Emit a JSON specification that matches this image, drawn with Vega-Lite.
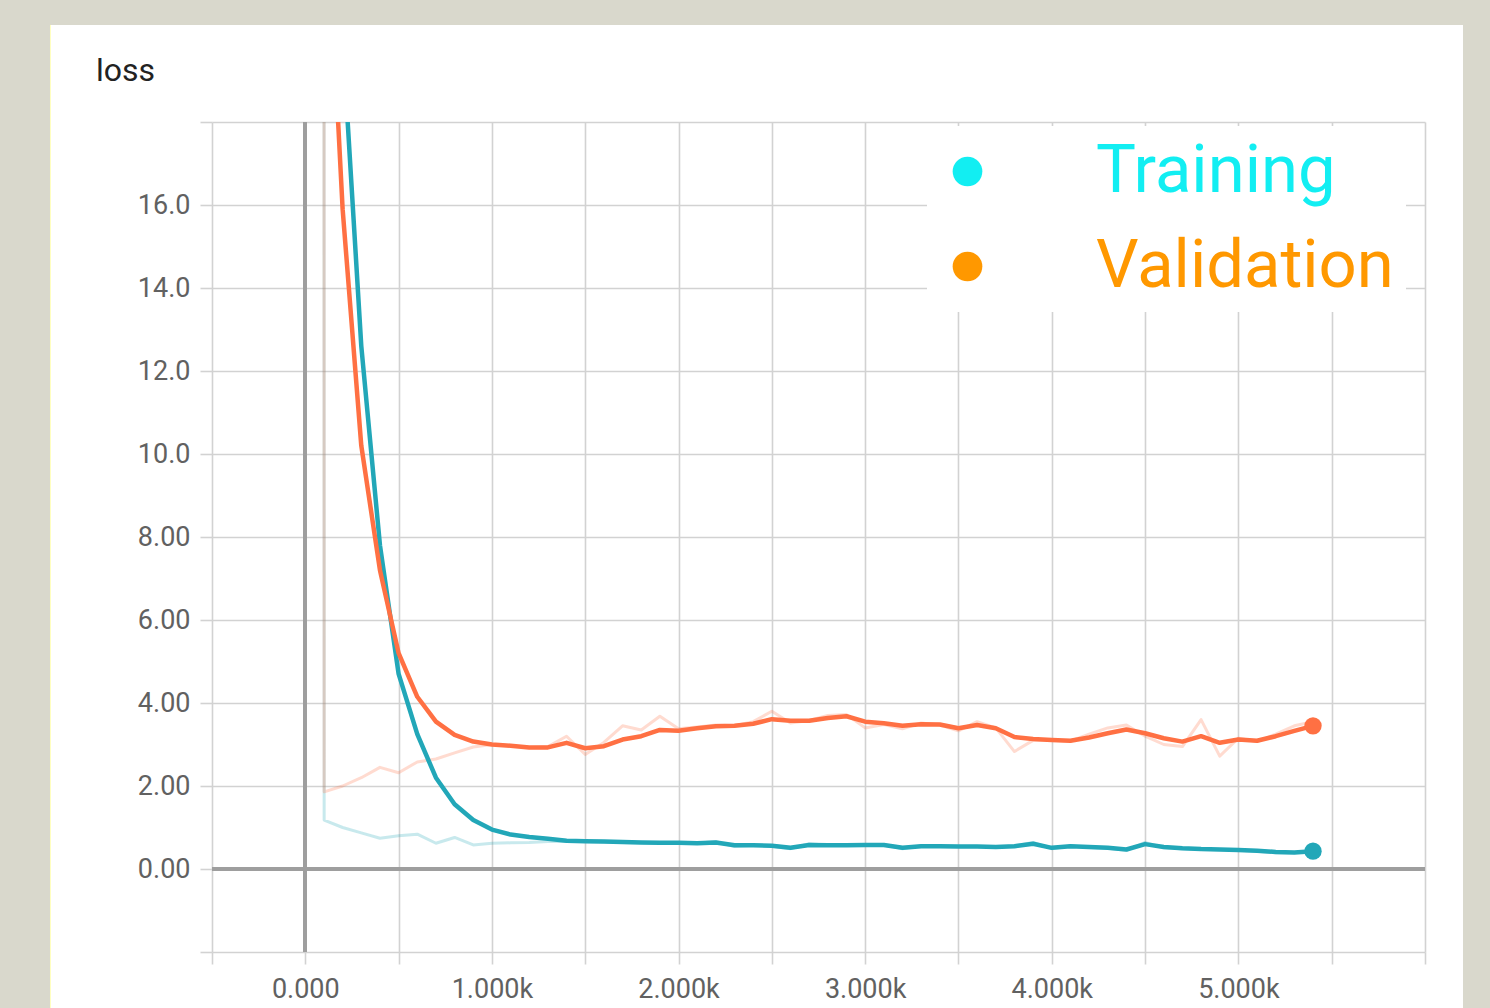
{
  "$schema": "https://vega.github.io/schema/vega-lite/v6.json",
  "width": 1213,
  "height": 830,
  "autosize": {"type": "none"},
  "padding": {"left": 212, "top": 122, "right": 65, "bottom": 56},
  "background": "#ffffff",
  "title": {"text": "loss", "anchor": "start", "frame": "group", "dx": -116, "offset": 0, "dy": 113, "baseline": "alphabetic", "fontSize": 32, "font": "Roboto", "fontWeight": "normal", "color": "#222222"},
  "config": {
    "view": {"stroke": null},
    "axis": {"grid": true, "gridColor": "#d2d2d2", "gridWidth": 1.6, "tickColor": "#d2d2d2", "tickWidth": 1.6, "tickSize": 12, "domain": false, "labelFont": "Roboto", "labelFontSize": 27, "labelColor": "#616161", "title": null}
  },
  "datasets": {
    "loss": [
      {"step": 99, "loss": 60, "run": "Training", "kind": "raw"},
      {"step": 101, "loss": 1.18, "run": "Training", "kind": "raw"},
      {"step": 200, "loss": 1.0, "run": "Training", "kind": "raw"},
      {"step": 300, "loss": 0.87, "run": "Training", "kind": "raw"},
      {"step": 400, "loss": 0.74, "run": "Training", "kind": "raw"},
      {"step": 500, "loss": 0.80, "run": "Training", "kind": "raw"},
      {"step": 600, "loss": 0.84, "run": "Training", "kind": "raw"},
      {"step": 700, "loss": 0.62, "run": "Training", "kind": "raw"},
      {"step": 800, "loss": 0.76, "run": "Training", "kind": "raw"},
      {"step": 900, "loss": 0.58, "run": "Training", "kind": "raw"},
      {"step": 1000, "loss": 0.62, "run": "Training", "kind": "raw"},
      {"step": 1100, "loss": 0.63, "run": "Training", "kind": "raw"},
      {"step": 1200, "loss": 0.64, "run": "Training", "kind": "raw"},
      {"step": 1300, "loss": 0.66, "run": "Training", "kind": "raw"},
      {"step": 1400, "loss": 0.66, "run": "Training", "kind": "raw"},
      {"step": 1500, "loss": 0.66, "run": "Training", "kind": "raw"},
      {"step": 1600, "loss": 0.65, "run": "Training", "kind": "raw"},
      {"step": 1700, "loss": 0.64, "run": "Training", "kind": "raw"},
      {"step": 1800, "loss": 0.63, "run": "Training", "kind": "raw"},
      {"step": 1900, "loss": 0.62, "run": "Training", "kind": "raw"},
      {"step": 2000, "loss": 0.63, "run": "Training", "kind": "raw"},
      {"step": 2100, "loss": 0.62, "run": "Training", "kind": "raw"},
      {"step": 2200, "loss": 0.66, "run": "Training", "kind": "raw"},
      {"step": 2300, "loss": 0.54, "run": "Training", "kind": "raw"},
      {"step": 2400, "loss": 0.57, "run": "Training", "kind": "raw"},
      {"step": 2500, "loss": 0.55, "run": "Training", "kind": "raw"},
      {"step": 2600, "loss": 0.49, "run": "Training", "kind": "raw"},
      {"step": 2700, "loss": 0.61, "run": "Training", "kind": "raw"},
      {"step": 2800, "loss": 0.57, "run": "Training", "kind": "raw"},
      {"step": 2900, "loss": 0.57, "run": "Training", "kind": "raw"},
      {"step": 3000, "loss": 0.58, "run": "Training", "kind": "raw"},
      {"step": 3100, "loss": 0.59, "run": "Training", "kind": "raw"},
      {"step": 3200, "loss": 0.49, "run": "Training", "kind": "raw"},
      {"step": 3300, "loss": 0.56, "run": "Training", "kind": "raw"},
      {"step": 3400, "loss": 0.55, "run": "Training", "kind": "raw"},
      {"step": 3500, "loss": 0.54, "run": "Training", "kind": "raw"},
      {"step": 3600, "loss": 0.54, "run": "Training", "kind": "raw"},
      {"step": 3700, "loss": 0.52, "run": "Training", "kind": "raw"},
      {"step": 3800, "loss": 0.56, "run": "Training", "kind": "raw"},
      {"step": 3900, "loss": 0.64, "run": "Training", "kind": "raw"},
      {"step": 4000, "loss": 0.49, "run": "Training", "kind": "raw"},
      {"step": 4100, "loss": 0.56, "run": "Training", "kind": "raw"},
      {"step": 4200, "loss": 0.52, "run": "Training", "kind": "raw"},
      {"step": 4300, "loss": 0.50, "run": "Training", "kind": "raw"},
      {"step": 4400, "loss": 0.45, "run": "Training", "kind": "raw"},
      {"step": 4500, "loss": 0.64, "run": "Training", "kind": "raw"},
      {"step": 4600, "loss": 0.51, "run": "Training", "kind": "raw"},
      {"step": 4700, "loss": 0.49, "run": "Training", "kind": "raw"},
      {"step": 4800, "loss": 0.47, "run": "Training", "kind": "raw"},
      {"step": 4900, "loss": 0.47, "run": "Training", "kind": "raw"},
      {"step": 5000, "loss": 0.45, "run": "Training", "kind": "raw"},
      {"step": 5100, "loss": 0.43, "run": "Training", "kind": "raw"},
      {"step": 5200, "loss": 0.39, "run": "Training", "kind": "raw"},
      {"step": 5300, "loss": 0.39, "run": "Training", "kind": "raw"},
      {"step": 5400, "loss": 0.44, "run": "Training", "kind": "raw"},

      {"step": 99, "loss": 60, "run": "Validation", "kind": "raw"},
      {"step": 101, "loss": 1.86, "run": "Validation", "kind": "raw"},
      {"step": 200, "loss": 2.0, "run": "Validation", "kind": "raw"},
      {"step": 300, "loss": 2.2, "run": "Validation", "kind": "raw"},
      {"step": 400, "loss": 2.45, "run": "Validation", "kind": "raw"},
      {"step": 500, "loss": 2.32, "run": "Validation", "kind": "raw"},
      {"step": 600, "loss": 2.58, "run": "Validation", "kind": "raw"},
      {"step": 700, "loss": 2.65, "run": "Validation", "kind": "raw"},
      {"step": 800, "loss": 2.8, "run": "Validation", "kind": "raw"},
      {"step": 900, "loss": 2.94, "run": "Validation", "kind": "raw"},
      {"step": 1000, "loss": 3.0, "run": "Validation", "kind": "raw"},
      {"step": 1100, "loss": 2.97, "run": "Validation", "kind": "raw"},
      {"step": 1200, "loss": 2.93, "run": "Validation", "kind": "raw"},
      {"step": 1300, "loss": 2.95, "run": "Validation", "kind": "raw"},
      {"step": 1400, "loss": 3.2, "run": "Validation", "kind": "raw"},
      {"step": 1500, "loss": 2.76, "run": "Validation", "kind": "raw"},
      {"step": 1600, "loss": 3.05, "run": "Validation", "kind": "raw"},
      {"step": 1700, "loss": 3.45, "run": "Validation", "kind": "raw"},
      {"step": 1800, "loss": 3.35, "run": "Validation", "kind": "raw"},
      {"step": 1900, "loss": 3.68, "run": "Validation", "kind": "raw"},
      {"step": 2000, "loss": 3.38, "run": "Validation", "kind": "raw"},
      {"step": 2100, "loss": 3.42, "run": "Validation", "kind": "raw"},
      {"step": 2200, "loss": 3.47, "run": "Validation", "kind": "raw"},
      {"step": 2300, "loss": 3.45, "run": "Validation", "kind": "raw"},
      {"step": 2400, "loss": 3.55, "run": "Validation", "kind": "raw"},
      {"step": 2500, "loss": 3.8, "run": "Validation", "kind": "raw"},
      {"step": 2600, "loss": 3.52, "run": "Validation", "kind": "raw"},
      {"step": 2700, "loss": 3.58, "run": "Validation", "kind": "raw"},
      {"step": 2800, "loss": 3.7, "run": "Validation", "kind": "raw"},
      {"step": 2900, "loss": 3.72, "run": "Validation", "kind": "raw"},
      {"step": 3000, "loss": 3.4, "run": "Validation", "kind": "raw"},
      {"step": 3100, "loss": 3.48, "run": "Validation", "kind": "raw"},
      {"step": 3200, "loss": 3.38, "run": "Validation", "kind": "raw"},
      {"step": 3300, "loss": 3.52, "run": "Validation", "kind": "raw"},
      {"step": 3400, "loss": 3.47, "run": "Validation", "kind": "raw"},
      {"step": 3500, "loss": 3.33, "run": "Validation", "kind": "raw"},
      {"step": 3600, "loss": 3.55, "run": "Validation", "kind": "raw"},
      {"step": 3700, "loss": 3.4, "run": "Validation", "kind": "raw"},
      {"step": 3800, "loss": 2.83, "run": "Validation", "kind": "raw"},
      {"step": 3900, "loss": 3.1, "run": "Validation", "kind": "raw"},
      {"step": 4000, "loss": 3.1, "run": "Validation", "kind": "raw"},
      {"step": 4100, "loss": 3.08, "run": "Validation", "kind": "raw"},
      {"step": 4200, "loss": 3.25, "run": "Validation", "kind": "raw"},
      {"step": 4300, "loss": 3.4, "run": "Validation", "kind": "raw"},
      {"step": 4400, "loss": 3.47, "run": "Validation", "kind": "raw"},
      {"step": 4500, "loss": 3.2, "run": "Validation", "kind": "raw"},
      {"step": 4600, "loss": 3.0, "run": "Validation", "kind": "raw"},
      {"step": 4700, "loss": 2.95, "run": "Validation", "kind": "raw"},
      {"step": 4800, "loss": 3.6, "run": "Validation", "kind": "raw"},
      {"step": 4900, "loss": 2.72, "run": "Validation", "kind": "raw"},
      {"step": 5000, "loss": 3.15, "run": "Validation", "kind": "raw"},
      {"step": 5100, "loss": 3.07, "run": "Validation", "kind": "raw"},
      {"step": 5200, "loss": 3.25, "run": "Validation", "kind": "raw"},
      {"step": 5300, "loss": 3.45, "run": "Validation", "kind": "raw"},
      {"step": 5400, "loss": 3.55, "run": "Validation", "kind": "raw"},

      {"step": 100, "loss": 33, "run": "Training", "kind": "smoothed"},
      {"step": 200, "loss": 20, "run": "Training", "kind": "smoothed"},
      {"step": 300, "loss": 12.6, "run": "Training", "kind": "smoothed"},
      {"step": 400, "loss": 7.8, "run": "Training", "kind": "smoothed"},
      {"step": 500, "loss": 4.7, "run": "Training", "kind": "smoothed"},
      {"step": 600, "loss": 3.25, "run": "Training", "kind": "smoothed"},
      {"step": 700, "loss": 2.2, "run": "Training", "kind": "smoothed"},
      {"step": 800, "loss": 1.56, "run": "Training", "kind": "smoothed"},
      {"step": 900, "loss": 1.18, "run": "Training", "kind": "smoothed"},
      {"step": 1000, "loss": 0.95, "run": "Training", "kind": "smoothed"},
      {"step": 1100, "loss": 0.83, "run": "Training", "kind": "smoothed"},
      {"step": 1200, "loss": 0.77, "run": "Training", "kind": "smoothed"},
      {"step": 1300, "loss": 0.73, "run": "Training", "kind": "smoothed"},
      {"step": 1400, "loss": 0.68, "run": "Training", "kind": "smoothed"},
      {"step": 1500, "loss": 0.67, "run": "Training", "kind": "smoothed"},
      {"step": 1600, "loss": 0.66, "run": "Training", "kind": "smoothed"},
      {"step": 1700, "loss": 0.65, "run": "Training", "kind": "smoothed"},
      {"step": 1800, "loss": 0.64, "run": "Training", "kind": "smoothed"},
      {"step": 1900, "loss": 0.63, "run": "Training", "kind": "smoothed"},
      {"step": 2000, "loss": 0.63, "run": "Training", "kind": "smoothed"},
      {"step": 2100, "loss": 0.62, "run": "Training", "kind": "smoothed"},
      {"step": 2200, "loss": 0.64, "run": "Training", "kind": "smoothed"},
      {"step": 2300, "loss": 0.57, "run": "Training", "kind": "smoothed"},
      {"step": 2400, "loss": 0.57, "run": "Training", "kind": "smoothed"},
      {"step": 2500, "loss": 0.56, "run": "Training", "kind": "smoothed"},
      {"step": 2600, "loss": 0.51, "run": "Training", "kind": "smoothed"},
      {"step": 2700, "loss": 0.58, "run": "Training", "kind": "smoothed"},
      {"step": 2800, "loss": 0.57, "run": "Training", "kind": "smoothed"},
      {"step": 2900, "loss": 0.57, "run": "Training", "kind": "smoothed"},
      {"step": 3000, "loss": 0.58, "run": "Training", "kind": "smoothed"},
      {"step": 3100, "loss": 0.58, "run": "Training", "kind": "smoothed"},
      {"step": 3200, "loss": 0.51, "run": "Training", "kind": "smoothed"},
      {"step": 3300, "loss": 0.55, "run": "Training", "kind": "smoothed"},
      {"step": 3400, "loss": 0.55, "run": "Training", "kind": "smoothed"},
      {"step": 3500, "loss": 0.54, "run": "Training", "kind": "smoothed"},
      {"step": 3600, "loss": 0.54, "run": "Training", "kind": "smoothed"},
      {"step": 3700, "loss": 0.53, "run": "Training", "kind": "smoothed"},
      {"step": 3800, "loss": 0.55, "run": "Training", "kind": "smoothed"},
      {"step": 3900, "loss": 0.61, "run": "Training", "kind": "smoothed"},
      {"step": 4000, "loss": 0.51, "run": "Training", "kind": "smoothed"},
      {"step": 4100, "loss": 0.55, "run": "Training", "kind": "smoothed"},
      {"step": 4200, "loss": 0.53, "run": "Training", "kind": "smoothed"},
      {"step": 4300, "loss": 0.51, "run": "Training", "kind": "smoothed"},
      {"step": 4400, "loss": 0.47, "run": "Training", "kind": "smoothed"},
      {"step": 4500, "loss": 0.60, "run": "Training", "kind": "smoothed"},
      {"step": 4600, "loss": 0.53, "run": "Training", "kind": "smoothed"},
      {"step": 4700, "loss": 0.50, "run": "Training", "kind": "smoothed"},
      {"step": 4800, "loss": 0.48, "run": "Training", "kind": "smoothed"},
      {"step": 4900, "loss": 0.47, "run": "Training", "kind": "smoothed"},
      {"step": 5000, "loss": 0.46, "run": "Training", "kind": "smoothed"},
      {"step": 5100, "loss": 0.44, "run": "Training", "kind": "smoothed"},
      {"step": 5200, "loss": 0.41, "run": "Training", "kind": "smoothed"},
      {"step": 5300, "loss": 0.40, "run": "Training", "kind": "smoothed"},
      {"step": 5400, "loss": 0.43, "run": "Training", "kind": "smoothed"},

      {"step": 100, "loss": 24.6, "run": "Validation", "kind": "smoothed"},
      {"step": 200, "loss": 15.9, "run": "Validation", "kind": "smoothed"},
      {"step": 300, "loss": 10.2, "run": "Validation", "kind": "smoothed"},
      {"step": 400, "loss": 7.2, "run": "Validation", "kind": "smoothed"},
      {"step": 500, "loss": 5.2, "run": "Validation", "kind": "smoothed"},
      {"step": 600, "loss": 4.15, "run": "Validation", "kind": "smoothed"},
      {"step": 700, "loss": 3.55, "run": "Validation", "kind": "smoothed"},
      {"step": 800, "loss": 3.23, "run": "Validation", "kind": "smoothed"},
      {"step": 900, "loss": 3.07, "run": "Validation", "kind": "smoothed"},
      {"step": 1000, "loss": 3.0, "run": "Validation", "kind": "smoothed"},
      {"step": 1100, "loss": 2.97, "run": "Validation", "kind": "smoothed"},
      {"step": 1200, "loss": 2.93, "run": "Validation", "kind": "smoothed"},
      {"step": 1300, "loss": 2.93, "run": "Validation", "kind": "smoothed"},
      {"step": 1400, "loss": 3.04, "run": "Validation", "kind": "smoothed"},
      {"step": 1500, "loss": 2.91, "run": "Validation", "kind": "smoothed"},
      {"step": 1600, "loss": 2.96, "run": "Validation", "kind": "smoothed"},
      {"step": 1700, "loss": 3.12, "run": "Validation", "kind": "smoothed"},
      {"step": 1800, "loss": 3.2, "run": "Validation", "kind": "smoothed"},
      {"step": 1900, "loss": 3.35, "run": "Validation", "kind": "smoothed"},
      {"step": 2000, "loss": 3.33, "run": "Validation", "kind": "smoothed"},
      {"step": 2100, "loss": 3.39, "run": "Validation", "kind": "smoothed"},
      {"step": 2200, "loss": 3.44, "run": "Validation", "kind": "smoothed"},
      {"step": 2300, "loss": 3.45, "run": "Validation", "kind": "smoothed"},
      {"step": 2400, "loss": 3.5, "run": "Validation", "kind": "smoothed"},
      {"step": 2500, "loss": 3.61, "run": "Validation", "kind": "smoothed"},
      {"step": 2600, "loss": 3.57, "run": "Validation", "kind": "smoothed"},
      {"step": 2700, "loss": 3.57, "run": "Validation", "kind": "smoothed"},
      {"step": 2800, "loss": 3.64, "run": "Validation", "kind": "smoothed"},
      {"step": 2900, "loss": 3.68, "run": "Validation", "kind": "smoothed"},
      {"step": 3000, "loss": 3.55, "run": "Validation", "kind": "smoothed"},
      {"step": 3100, "loss": 3.51, "run": "Validation", "kind": "smoothed"},
      {"step": 3200, "loss": 3.45, "run": "Validation", "kind": "smoothed"},
      {"step": 3300, "loss": 3.49, "run": "Validation", "kind": "smoothed"},
      {"step": 3400, "loss": 3.48, "run": "Validation", "kind": "smoothed"},
      {"step": 3500, "loss": 3.39, "run": "Validation", "kind": "smoothed"},
      {"step": 3600, "loss": 3.47, "run": "Validation", "kind": "smoothed"},
      {"step": 3700, "loss": 3.39, "run": "Validation", "kind": "smoothed"},
      {"step": 3800, "loss": 3.18, "run": "Validation", "kind": "smoothed"},
      {"step": 3900, "loss": 3.13, "run": "Validation", "kind": "smoothed"},
      {"step": 4000, "loss": 3.11, "run": "Validation", "kind": "smoothed"},
      {"step": 4100, "loss": 3.09, "run": "Validation", "kind": "smoothed"},
      {"step": 4200, "loss": 3.17, "run": "Validation", "kind": "smoothed"},
      {"step": 4300, "loss": 3.27, "run": "Validation", "kind": "smoothed"},
      {"step": 4400, "loss": 3.36, "run": "Validation", "kind": "smoothed"},
      {"step": 4500, "loss": 3.27, "run": "Validation", "kind": "smoothed"},
      {"step": 4600, "loss": 3.15, "run": "Validation", "kind": "smoothed"},
      {"step": 4700, "loss": 3.07, "run": "Validation", "kind": "smoothed"},
      {"step": 4800, "loss": 3.2, "run": "Validation", "kind": "smoothed"},
      {"step": 4900, "loss": 3.04, "run": "Validation", "kind": "smoothed"},
      {"step": 5000, "loss": 3.12, "run": "Validation", "kind": "smoothed"},
      {"step": 5100, "loss": 3.09, "run": "Validation", "kind": "smoothed"},
      {"step": 5200, "loss": 3.2, "run": "Validation", "kind": "smoothed"},
      {"step": 5300, "loss": 3.33, "run": "Validation", "kind": "smoothed"},
      {"step": 5400, "loss": 3.45, "run": "Validation", "kind": "smoothed"}
    ]
  },
  "data": {"name": "loss"},
  "encoding": {
    "x": {"field": "step", "type": "quantitative",
      "scale": {"domain": [-500, 6000], "nice": false, "zero": false},
      "axis": {"values": [-500, 0, 500, 1000, 1500, 2000, 2500, 3000, 3500, 4000, 4500, 5000, 5500, 6000], "labelPadding": 12,
        "labelExpr": "datum.value === 0 ? '0.000' : (datum.value > 0 && datum.value <= 5000 && datum.value % 1000 === 0 ? format(datum.value / 1000, '.3f') + 'k' : '')"}},
    "y": {"field": "loss", "type": "quantitative",
      "scale": {"domain": [-2, 18], "nice": false, "zero": false},
      "axis": {"values": [-2, 0, 2, 4, 6, 8, 10, 12, 14, 16, 18], "labelPadding": 10,
        "labelExpr": "datum.value === 0 ? '0.00' : (datum.value < 0 || datum.value > 17 ? '' : format(datum.value, '.3r'))"}}
  },
  "layer": [
    {"mark": {"type": "rule", "color": "#9e9e9e", "strokeWidth": 3}, "encoding": {"x": {"datum": 0}, "y": null}},
    {"mark": {"type": "rule", "color": "#9e9e9e", "strokeWidth": 3}, "encoding": {"y": {"datum": 0}, "x": null}},
    {"transform": [{"filter": "datum.kind === 'raw'"}],
      "mark": {"type": "line", "clip": true, "strokeWidth": 3, "opacity": 0.25, "strokeJoin": "round"},
      "encoding": {"color": {"field": "run", "type": "nominal", "scale": {"domain": ["Training", "Validation"], "range": ["#22a7b8", "#ff7043"]}, "legend": null}}},
    {"transform": [{"filter": "datum.kind === 'smoothed'"}],
      "mark": {"type": "line", "clip": true, "strokeWidth": 4.5, "strokeJoin": "round"},
      "encoding": {"color": {"field": "run", "type": "nominal", "legend": null}}},
    {"transform": [{"filter": "datum.kind === 'smoothed' && datum.step === 5400"}],
      "mark": {"type": "circle", "size": 300, "opacity": 1},
      "encoding": {"color": {"field": "run", "type": "nominal", "legend": null}}},
    {"transform": [{"filter": "datum.kind === 'raw' && datum.step === 5400"}],
      "mark": {"type": "circle", "size": 0, "opacity": 1},
      "encoding": {"fill": {"field": "run", "type": "nominal", "scale": {"range": ["#12eef2", "#ff9800"]},
        "legend": {"orient": "none", "legendX": 715, "legendY": 4, "title": null, "fillColor": "#ffffff", "padding": 12,
          "symbolType": "circle", "symbolSize": 880, "symbolOffset": -5, "symbolOpacity": 1, "symbolStrokeWidth": 0,
          "labelFont": "Roboto", "labelFontSize": 67, "labelOffset": 95, "labelLimit": 700, "rowPadding": 27,
          "encode": {"labels": {"update": {"fill": {"signal": "datum.label === 'Training' ? '#12eef2' : '#ff9800'"}}}}}}}},
    {"mark": {"type": "rect", "color": "#d9d8cc"}, "encoding": {"x": {"datum": -1700}, "x2": {"datum": -1368}, "y": {"datum": -5}, "y2": {"datum": 20.94}}},
    {"mark": {"type": "rect", "color": "#d9d8cc"}, "encoding": {"x": {"datum": -1700}, "x2": {"datum": 6600}, "y": {"datum": 20.34}, "y2": {"datum": 20.94}}},
    {"mark": {"type": "rect", "color": "#d9d8cc"}, "encoding": {"x": {"datum": 6204}, "x2": {"datum": 6600}, "y": {"datum": -5}, "y2": {"datum": 20.94}}}
  ]
}
